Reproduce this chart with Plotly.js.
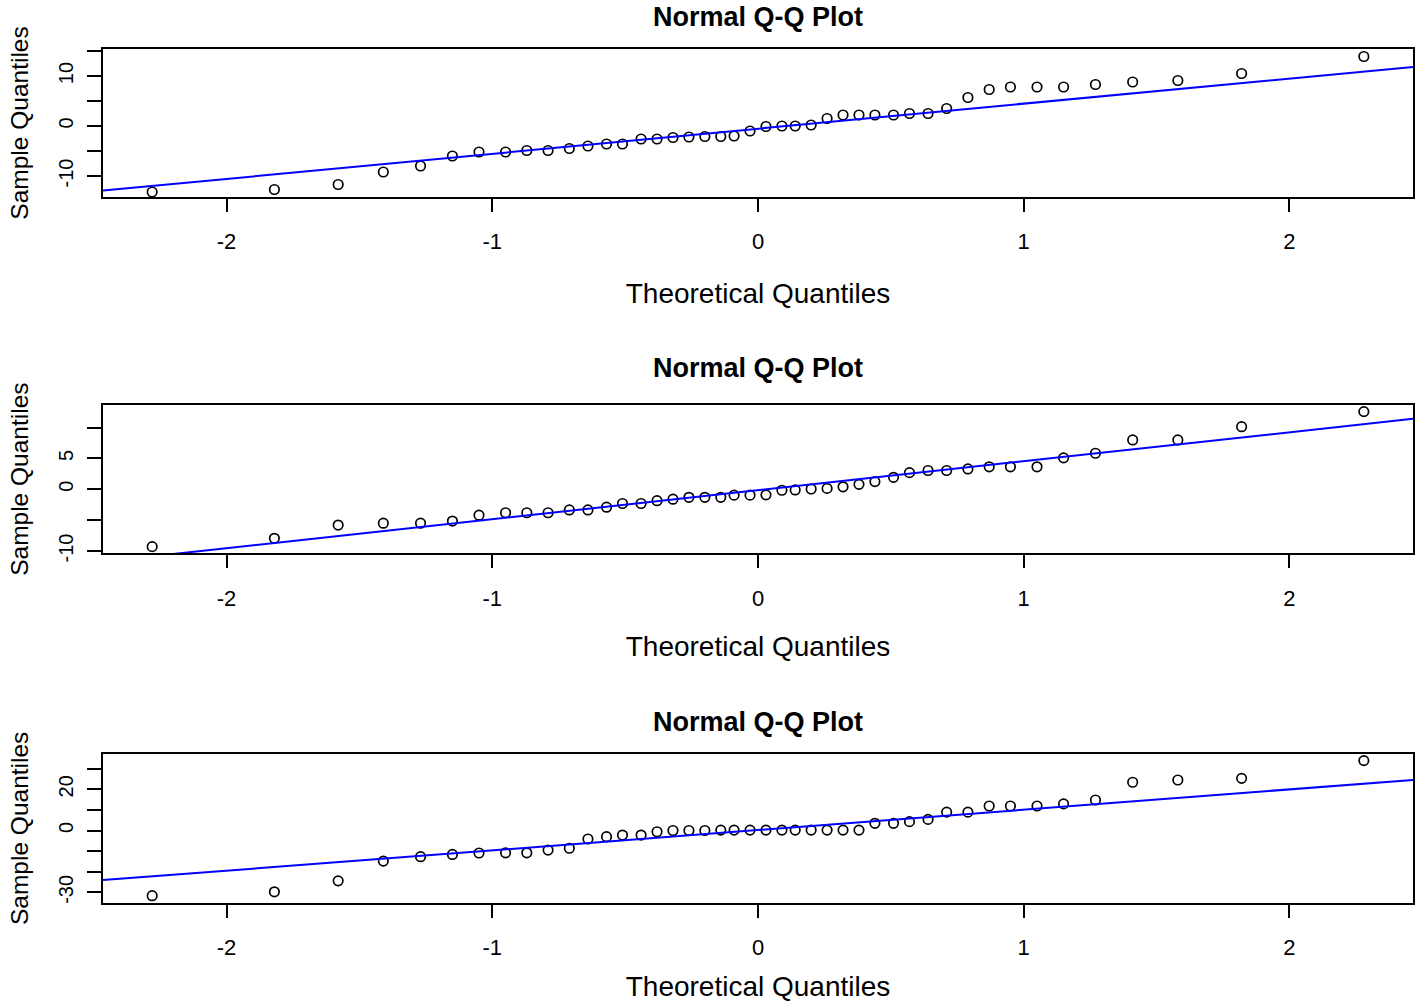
<!DOCTYPE html>
<html>
<head>
<meta charset="utf-8">
<script src="https://cdn.plot.ly/plotly-3.0.1.min.js"></script>
<style>html,body{margin:0;padding:0;background:#fff;}#chart{width:1416px;height:1002px;}</style>
</head>
<body>
<div id="chart"></div>
<script>
// Theoretical quantiles (x positions, n = 44)
const theoreticalQuantiles = [-2.28, -1.82, -1.58, -1.41, -1.27, -1.15, -1.05, -0.95, -0.87, -0.79, -0.71,
  -0.64, -0.57, -0.51, -0.44, -0.38, -0.32, -0.26, -0.20, -0.14, -0.09, -0.03,
  0.03, 0.09, 0.14, 0.20, 0.26, 0.32, 0.38, 0.44, 0.51, 0.57, 0.64,
  0.71, 0.79, 0.87, 0.95, 1.05, 1.15, 1.27, 1.41, 1.58, 1.82, 2.28];

// Sample quantiles, panel 1
const sample1 = [-13.2, -12.7, -11.7, -9.2, -8.0, -6.0, -5.2, -5.2, -4.9, -4.9, -4.5,
  -4.0, -3.6, -3.6, -2.6, -2.6, -2.3, -2.2, -2.1, -2.1, -2.0, -1.0,
  -0.1, 0.0, 0.0, 0.2, 1.5, 2.2, 2.2, 2.2, 2.2, 2.5, 2.5,
  3.5, 5.7, 7.3, 7.8, 7.8, 7.8, 8.3, 8.8, 9.1, 10.5, 13.9];

// Sample quantiles, panel 2
const sample2 = [-9.3, -7.95, -5.8, -5.5, -5.5, -5.15, -4.2, -3.8, -3.8, -3.8, -3.35,
  -3.35, -2.9, -2.3, -2.3, -1.85, -1.6, -1.3, -1.3, -1.3, -0.95, -0.95,
  -0.9, -0.15, -0.1, 0.05, 0.15, 0.4, 0.8, 1.25, 1.95, 2.7, 3.05,
  3.05, 3.3, 3.65, 3.65, 3.65, 5.1, 5.85, 8.0, 8.0, 10.15, 12.6];

// Sample quantiles, panel 3
const sample3 = [-31.6, -29.7, -24.4, -14.8, -12.7, -11.6, -10.9, -10.8, -10.8, -9.5, -8.6,
  -4.1, -3.0, -2.2, -2.2, -0.6, 0.0, 0.0, 0.0, 0.2, 0.2, 0.2,
  0.2, 0.2, 0.2, 0.2, 0.2, 0.2, 0.2, 3.5, 3.5, 4.3, 5.4,
  8.9, 8.9, 11.9, 11.9, 11.9, 12.9, 14.8, 23.4, 24.5, 25.3, 33.9];

// Reference lines (qqline): [intercept, slope]
const lineIntercepts = [-0.55, -0.15, 0.24];
const lineSlopes = [5.02, 4.7, 9.85];

// Axis ticks
const xTickVals = [-2, -1, 0, 1, 2];
const xTickText = ['-2', '-1', '0', '1', '2'];
const yTickVals1 = [-10, -5, 0, 5, 10, 15];
const yTickText1 = ['-10', '', '0', '', '10', ''];
const yTickVals2 = [-10, -5, 0, 5, 10];
const yTickText2 = ['-10', '', '0', '5', ''];
const yTickVals3 = [-30, -20, -10, 0, 10, 20, 30];
const yTickText3 = ['-30', '', '', '0', '', '20', ''];

const samples = [sample1, sample2, sample3];
const xRange = [-2.465, 2.465];
const yRanges = [[-14.2, 15.4], [-10.38, 13.67], [-35.0, 37.1]];
const yDomains = [[0.8034, 0.9511], [0.4478, 0.5958], [0.0991, 0.2475]];
const yTicks = [[yTickVals1, yTickText1], [yTickVals2, yTickText2], [yTickVals3, yTickText3]];
const titleY = [0.9835, 0.6327, 0.2794];

const FONT = 'Liberation Sans, Arial, Helvetica, sans-serif';
const traces = [];
const layout = {
  width: 1416, height: 1002,
  margin: {l: 103, r: 3, t: 0, b: 0, pad: 0},
  paper_bgcolor: '#ffffff', plot_bgcolor: '#ffffff',
  showlegend: false,
  font: {family: FONT, color: '#000000'},
  annotations: []
};

for (let k = 0; k < 3; k++) {
  const sx = k === 0 ? '' : String(k + 1);
  const xa = 'x' + sx, ya = 'y' + sx;
  traces.push({
    type: 'scatter', mode: 'markers', x: theoreticalQuantiles, y: samples[k],
    xaxis: xa, yaxis: ya,
    marker: {symbol: 'circle-open', size: 9.5, color: '#000000', line: {width: 1.7, color: '#000000'}},
    hoverinfo: 'x+y'
  });
  const lx = [xRange[0], xRange[1]];
  traces.push({
    type: 'scatter', mode: 'lines', x: lx,
    y: lx.map(v => lineIntercepts[k] + lineSlopes[k] * v),
    xaxis: xa, yaxis: ya,
    line: {color: '#0000ff', width: 2}, hoverinfo: 'skip'
  });
  layout['xaxis' + sx] = {
    anchor: ya, domain: [0, 1], range: xRange,
    tickvals: xTickVals, ticktext: xTickText,
    showline: true, mirror: true, linecolor: '#000000', linewidth: 1.8,
    ticks: 'outside', ticklen: 13, tickwidth: 1.8, tickcolor: '#000000',
    ticklabelstandoff: 11,
    tickfont: {size: 22, family: FONT, color: '#000000'},
    showgrid: false, zeroline: false, automargin: false,
    title: {text: 'Theoretical Quantiles', font: {size: 28, family: FONT, color: '#000000'}, standoff: k === 0 ? 30 : (k === 1 ? 27 : 24)}
  };
  layout['yaxis' + sx] = {
    anchor: xa, domain: yDomains[k], range: yRanges[k],
    tickvals: yTicks[k][0], ticktext: yTicks[k][1], tickangle: -90,
    showline: true, mirror: true, linecolor: '#000000', linewidth: 1.8,
    ticks: 'outside', ticklen: 14, tickwidth: 1.8, tickcolor: '#000000',
    ticklabelstandoff: 6,
    tickfont: {size: 20, family: FONT, color: '#000000'},
    showgrid: false, zeroline: false, automargin: false,
    title: {text: 'Sample Quantiles', font: {size: 24.5, family: FONT, color: '#000000'}, standoff: 20}
  };
  layout.annotations.push({
    text: '<b>Normal Q-Q Plot</b>', xref: 'paper', yref: 'paper', x: 0.5, y: titleY[k],
    xanchor: 'center', yanchor: 'middle', showarrow: false,
    font: {size: 27, family: FONT, color: '#000000'}
  });
}

Plotly.newPlot('chart', traces, layout, {displayModeBar: false, staticPlot: false});
</script>
</body>
</html>
